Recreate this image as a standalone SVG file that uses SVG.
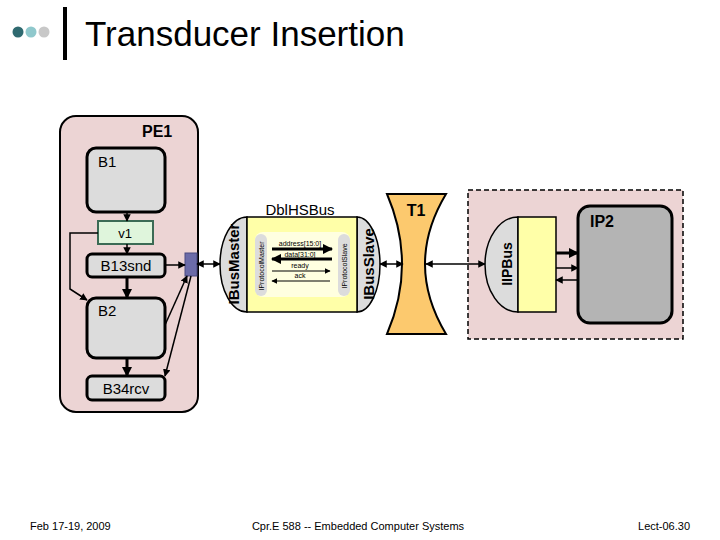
<svg xmlns="http://www.w3.org/2000/svg" width="720" height="540" viewBox="0 0 720 540">
<defs>
<marker id="ah" viewBox="0 0 10 10" refX="9" refY="5" markerWidth="5" markerHeight="5" orient="auto-start-reverse"><path d="M0,0 L10,5 L0,10 Z" fill="#000"/></marker>
<marker id="ahs" viewBox="0 0 10 10" refX="9" refY="5" markerWidth="3.5" markerHeight="3.5" orient="auto-start-reverse"><path d="M0,0 L10,5 L0,10 Z" fill="#000"/></marker>
<style>
text{font-family:"Liberation Sans",Arial,sans-serif;fill:#000}
.blk{fill:#dcdcdc;stroke:#000;stroke-width:3}
.lbl{font-size:15px}
.c{stroke:#000;fill:none;stroke-width:1.5}
.ct{stroke:#000;fill:none;stroke-width:3}
.half{fill:#dcdcdc;stroke:#000;stroke-width:1.5}
</style>
</defs>
<rect width="720" height="540" fill="#fff"/>
<g id="title">
<circle cx="18" cy="32" r="5.5" fill="#2f6a70"/><circle cx="31" cy="32" r="5.5" fill="#8fc8cc"/><circle cx="44" cy="32" r="5.5" fill="#c8c8c8"/>
<rect x="63" y="7" width="4" height="53" fill="#000"/>
<text x="85" y="46" font-size="35">Transducer Insertion</text>
</g>
<g id="PE1">
<rect x="60" y="116" width="138" height="296" rx="16" fill="#ecd4d4" stroke="#000" stroke-width="2"/>
<text x="142" y="137" font-size="16" font-weight="bold">PE1</text>
</g>
<g id="B1"><rect class="blk" x="87" y="148" width="78" height="64" rx="9"/><text class="lbl" x="98" y="167">B1</text></g>
<g id="v1"><rect x="98" y="221" width="55" height="23" fill="#dff5dc" stroke="#3b6b55" stroke-width="2"/><text x="125" y="238" font-size="13" text-anchor="middle">v1</text></g>
<g id="B13snd"><rect class="blk" x="87" y="254" width="78" height="23" rx="5"/><text class="lbl" x="126" y="271" text-anchor="middle">B13snd</text></g>
<g id="B2"><rect class="blk" x="87" y="298" width="78" height="60" rx="9"/><text class="lbl" x="98" y="316">B2</text></g>
<g id="B34rcv"><rect class="blk" x="87" y="376" width="78" height="24" rx="5"/><text class="lbl" x="126" y="394" text-anchor="middle">B34rcv</text></g>
<g id="port"><rect x="185" y="253" width="12" height="23" fill="#6b6ba8" stroke="#4a4a80"/></g>
<g id="DblHSBus">
<text x="300" y="215" font-size="15" text-anchor="middle">DblHSBus</text>
<path class="half" d="M247,217 A27,47.5 0 0 0 247,312 Z"/>
<path class="half" d="M357,217 A23,47.5 0 0 1 357,312 Z"/>
<rect x="247" y="217" width="110" height="95" fill="#ffffa8" stroke="#000" stroke-width="1.5"/>
<rect x="255" y="232" width="95" height="65" rx="8" fill="#ffffe0"/>
<rect x="255" y="234" width="12" height="62" rx="6" fill="#dcdcdc"/>
<rect x="338" y="234" width="12" height="62" rx="6" fill="#dcdcdc"/>
<text transform="translate(239,264) rotate(-90)" font-size="15" font-weight="bold" text-anchor="middle">IBusMaster</text>
<text transform="translate(374,264) rotate(-90)" font-size="15" font-weight="bold" text-anchor="middle">IBusSlave</text>
<text transform="translate(264,266) rotate(-90)" font-size="7" text-anchor="middle">IProtocolMaster</text>
<text transform="translate(347,266) rotate(-90)" font-size="7" text-anchor="middle">IProtocolSlave</text>
<text x="300" y="246" font-size="7" text-anchor="middle">address[15:0]</text>
<text x="300" y="257" font-size="7" text-anchor="middle">data[31:0]</text>
<text x="300" y="268" font-size="7" text-anchor="middle">ready</text>
<text x="300" y="278" font-size="7" text-anchor="middle">ack</text>
<line x1="272" y1="249" x2="332" y2="249" stroke="#000" stroke-width="3" marker-end="url(#ahs)"/>
<line x1="272" y1="259" x2="332" y2="259" stroke="#000" stroke-width="3" marker-start="url(#ahs)"/>
<line x1="272" y1="271" x2="330" y2="271" stroke="#000" stroke-width="1.2" marker-end="url(#ah)"/>
<line x1="272" y1="281" x2="330" y2="281" stroke="#000" stroke-width="1.2" marker-start="url(#ah)"/>
</g>
<g id="T1">
<path d="M387,194 L446,194 Q404,264 446,334 L387,334 Q417,264 387,194 Z" fill="#fcc96e" stroke="#000" stroke-width="2"/>
<text x="416" y="216" font-size="16" font-weight="bold" text-anchor="middle">T1</text>
</g>
<g id="IP2box">
<rect x="468" y="190" width="215" height="149" fill="#ecd4d4" stroke="#000" stroke-width="1.5" stroke-dasharray="5,3"/>
<path class="half" d="M518,217 A33,47.5 0 0 0 518,312 Z"/>
<rect x="518" y="217" width="38" height="95" fill="#ffffa8" stroke="#000" stroke-width="1.5"/>
<text transform="translate(512,264) rotate(-90)" font-size="14" font-weight="bold" text-anchor="middle">IIPBus</text>
</g>
<g id="IP2"><rect x="578" y="206" width="94" height="117" rx="12" fill="#b4b4b4" stroke="#000" stroke-width="3"/><text x="590" y="227" font-size="16" font-weight="bold">IP2</text></g>
<g id="connectors">
<line class="c" x1="127" y1="212" x2="127" y2="221" marker-end="url(#ah)"/>
<line class="c" x1="127" y1="244" x2="127" y2="254" marker-end="url(#ah)"/>
<line class="ct" x1="127" y1="277" x2="127" y2="298" marker-end="url(#ahs)"/>
<line class="ct" x1="127" y1="358" x2="127" y2="376" marker-end="url(#ahs)"/>
<polyline class="c" stroke-width="1" points="98,233 70,233 70,289 87,300" marker-end="url(#ah)"/>
<line class="c" stroke-width="2" x1="165" y1="265" x2="185" y2="265" marker-end="url(#ah)"/>
<line class="c" stroke-width="1.5" x1="165" y1="325" x2="187" y2="276" marker-end="url(#ah)"/>
<line class="c" stroke-width="1" x1="191" y1="276" x2="165" y2="376" marker-end="url(#ah)"/>
<line class="c" x1="197" y1="264" x2="220" y2="264" marker-start="url(#ah)" marker-end="url(#ah)"/>
<line class="c" x1="380" y1="264" x2="403" y2="264" marker-start="url(#ah)" marker-end="url(#ah)"/>
<line class="c" x1="426" y1="264" x2="485" y2="264" marker-start="url(#ah)" marker-end="url(#ah)"/>
<line x1="556" y1="253" x2="578" y2="253" stroke="#000" stroke-width="3" marker-end="url(#ahs)"/>
<line class="c" x1="556" y1="268" x2="578" y2="268" marker-end="url(#ah)"/>
<line class="c" x1="556" y1="280" x2="578" y2="280" marker-start="url(#ah)"/>
</g>
<g id="footer">
<text x="30" y="530" font-size="11">Feb 17-19, 2009</text>
<text x="358" y="530" font-size="11" text-anchor="middle">Cpr.E 588 -- Embedded Computer Systems</text>
<text x="690" y="530" font-size="11" text-anchor="end">Lect-06.30</text>
</g>
</svg>
